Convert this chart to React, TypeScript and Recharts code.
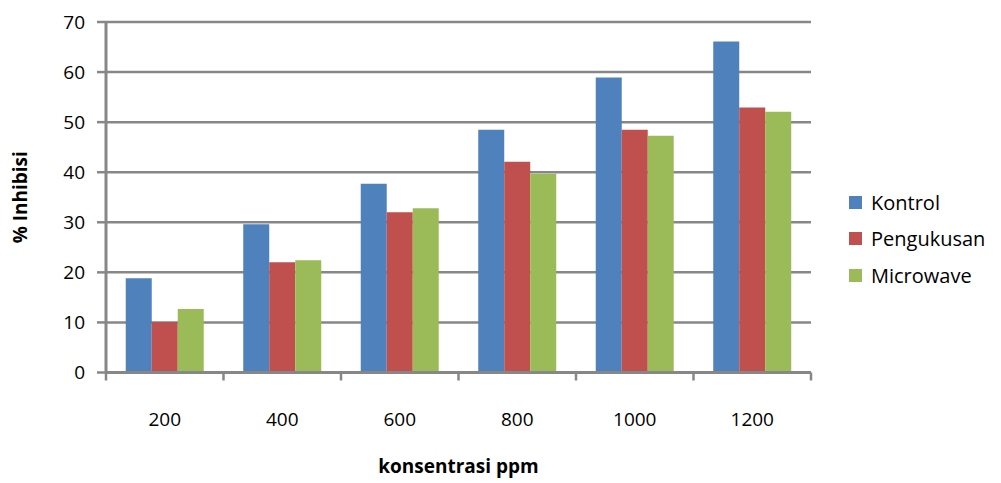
import React from 'react';
import {
  BarChart,
  Bar,
  XAxis,
  YAxis,
  CartesianGrid,
  Legend,
  Label,
} from 'recharts';

const categories = ['200', '400', '600', '800', '1000', '1200'];
const kontrol = [18.8, 29.6, 37.7, 48.5, 58.9, 66.1];
const pengukusan = [10.1, 22.0, 32.0, 42.1, 48.5, 52.9];
const microwave = [12.7, 22.4, 32.8, 39.7, 47.3, 52.1];
const yTicks = [0, 10, 20, 30, 40, 50, 60, 70];

const series = [
  { key: 'Kontrol', color: '#4F81BD' },
  { key: 'Pengukusan', color: '#C0504D' },
  { key: 'Microwave', color: '#9BBB59' },
];

const data = categories.map((name, i) => ({
  name,
  Kontrol: kontrol[i],
  Pengukusan: pengukusan[i],
  Microwave: microwave[i],
}));

const FONT = '"Open Sans", sans-serif';
const GRAY = '#878787';

// Excel style: tick marks sit between the categories, labels in the middle
function CategoryTick(props: any) {
  const { x, y, payload, index, visibleTicksCount } = props;
  const half = payload?.offset ?? 0;
  const isLast = index === visibleTicksCount - 1;
  return (
    <g>
      <line x1={x - half} x2={x - half} y1={y} y2={y + 8} stroke={GRAY} strokeWidth={2.5} />
      {isLast && (
        <line x1={x + half} x2={x + half} y1={y} y2={y + 8} stroke={GRAY} strokeWidth={2.5} />
      )}
      <text
        x={x}
        y={y + 40}
        dy="0.71em"
        textAnchor="middle"
        style={{ fill: '#000', fontSize: 19, fontFamily: FONT }}
      >
        {payload.value}
      </text>
    </g>
  );
}

function LegendBox() {
  return (
    <div style={{ fontFamily: FONT, fontSize: 20, color: '#000' }}>
      {series.map((s) => (
        <div
          key={s.key}
          style={{ display: 'flex', alignItems: 'center', height: 36.5 }}
        >
          <span
            style={{
              display: 'inline-block',
              width: 13,
              height: 13,
              background: s.color,
              marginRight: 9,
            }}
          />
          <span>{s.key}</span>
        </div>
      ))}
    </div>
  );
}

export default function App() {
  return (
    <div style={{ position: 'absolute', left: 0, top: 0, background: '#fff' }}>
      <BarChart
        width={1001}
        height={483}
        data={data}
        margin={{ top: 22, right: 38, bottom: 0, left: 0 }}
        barCategoryGap="16.8%"
        barGap={0}
      >
        <CartesianGrid vertical={false} stroke={GRAY} strokeWidth={2.5} />
        <XAxis
          dataKey="name"
          height={110.5}
          interval={0}
          axisLine={{ stroke: GRAY, strokeWidth: 3 }}
          tickLine={false}
          tickSize={0}
          tickMargin={0}
          tick={<CategoryTick />}
        >
          <Label
            value="konsentrasi ppm"
            position="insideBottom"
            offset={10}
            style={{ fill: '#000', fontSize: 19, fontWeight: 'bold', fontFamily: FONT }}
          />
        </XAxis>
        <YAxis
          width={106}
          domain={[0, 70]}
          ticks={yTicks}
          interval={0}
          tickSize={9}
          tickMargin={12}
          axisLine={{ stroke: GRAY, strokeWidth: 3 }}
          tickLine={{ stroke: GRAY, strokeWidth: 2.5 }}
          tick={{ fill: '#000', fontSize: 19, fontFamily: FONT }}
        >
          <Label
            content={({ viewBox }: any) => {
              const cx = viewBox.x + 20;
              const cy = viewBox.y + viewBox.height / 2;
              return (
                <text
                  x={cx}
                  y={cy}
                  transform={`rotate(-90 ${cx} ${cy})`}
                  textAnchor="middle"
                  dominantBaseline="central"
                  style={{ fill: '#000', fontSize: 19, fontWeight: 'bold', fontFamily: FONT }}
                >
                  % Inhibisi
                </text>
              );
            }}
          />
        </YAxis>
        <Legend
          layout="vertical"
          align="right"
          verticalAlign="top"
          content={<LegendBox />}
          wrapperStyle={{ left: 849, top: 184, width: 152 }}
        />
        {series.map(({ key, color }) => (
          <Bar key={key} dataKey={key} fill={color} isAnimationActive={false} />
        ))}
      </BarChart>
    </div>
  );
}
